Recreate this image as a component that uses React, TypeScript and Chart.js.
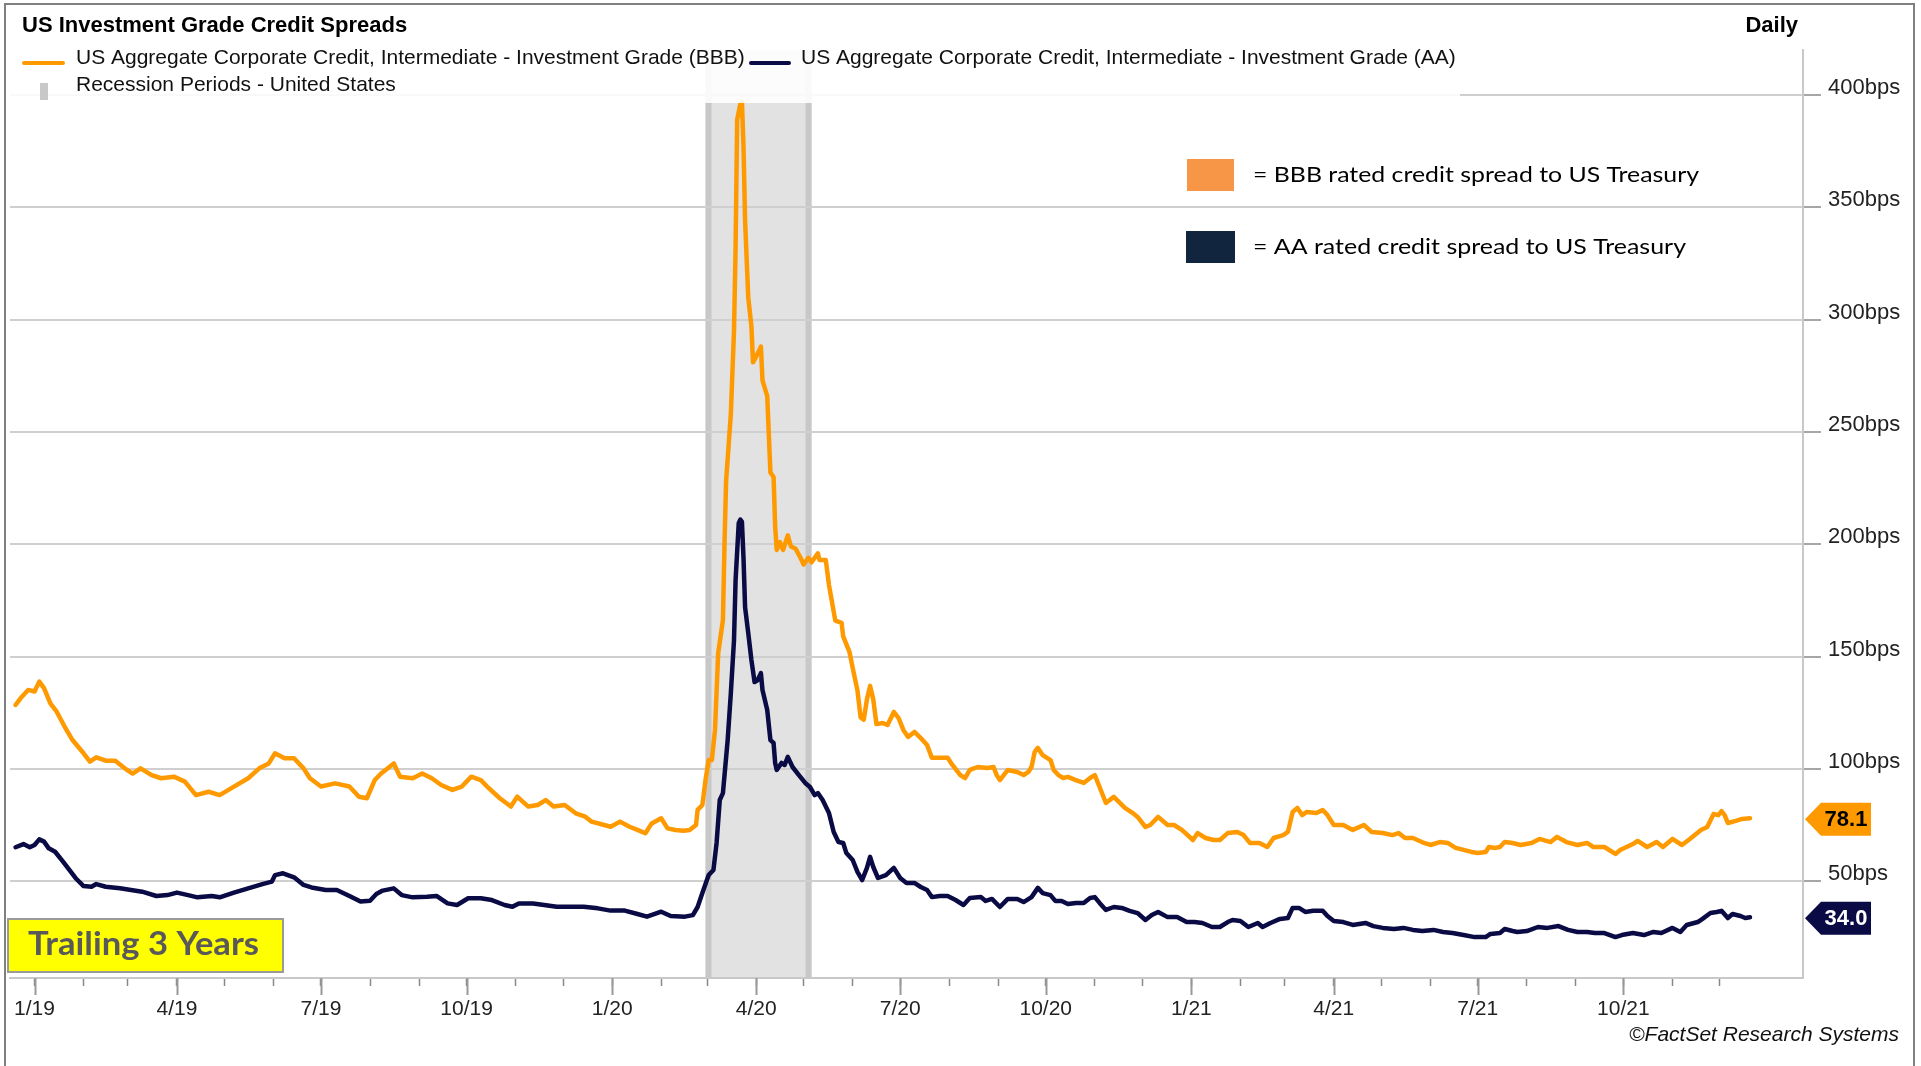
import React, { useEffect, useRef } from 'react';
import { Chart, registerables } from 'chart.js';

Chart.register(...registerables);

// x values: days since 2019-01-01
const bbbDays = [
  -12, -8, -4, 0, 3, 6, 10, 14, 19, 24, 31, 35, 39, 45, 51, 57, 62, 67, 74, 80,
  88, 95, 102, 110, 117, 126, 135, 142, 148, 152, 158, 164, 170, 174, 181, 190, 199, 205, 210, 215,
  219, 227, 231, 239, 245, 251, 257, 264, 270, 276, 282, 286, 294, 301, 305, 312, 318, 323, 328, 335,
  342, 348, 352, 360, 364, 370, 376, 381, 386, 390, 396, 400, 405, 410, 414, 418, 419, 422, 424, 426,
  428, 430, 432, 435, 436, 437, 440, 442, 443, 444, 446, 447, 448, 449, 451, 453, 454, 457, 459, 460,
  463, 465, 467, 468, 469, 471, 473, 476, 478, 481, 484, 486, 489, 491, 495, 496, 500, 502, 506, 510,
  511, 515, 517, 520, 522, 524, 526, 528, 530, 532, 536, 539, 543, 546, 549, 552, 556, 560, 564, 567,
  571, 577, 580, 585, 588, 591, 596, 602, 606, 608, 610, 615, 621, 625, 628, 630, 632, 634, 637, 642,
  644, 647, 650, 653, 658, 663, 667, 670, 673, 677, 682, 689, 694, 697, 702, 705, 710, 716, 720, 725,
  732, 735, 740, 745, 749, 754, 760, 764, 768, 774, 779, 783, 789, 792, 795, 798, 801, 804, 810, 814,
  817, 821, 827, 833, 840, 845, 852, 858, 862, 866, 871, 878, 882, 888, 893, 898, 903, 908, 912, 917,
  919, 923, 926, 929, 934, 939, 946, 951, 958, 962, 968, 975, 981, 985, 992, 999, 1002, 1010, 1013, 1019,
  1025, 1029, 1035, 1041, 1046, 1053, 1057, 1061, 1064, 1066, 1068, 1070, 1075, 1079, 1084,
];
const bbbValues = [
  128.5, 132.2, 135.2, 134.5, 138.9, 136, 129.2, 125.5, 118.9, 112.9, 107, 103.3, 105.2, 103.7, 103.7, 100.3, 98, 100.3, 97.3, 95.9,
  96.6, 94.4, 88.4, 89.9, 88.4, 92.2, 95.9, 100.3, 102.5, 107, 104.8, 104.8, 100.3, 95.9, 92.2, 93.6, 92.2, 87.7, 87, 95.1,
  98, 102.5, 96.6, 95.9, 98, 95.9, 92.9, 90.7, 92.2, 96.6, 95.1, 92.2, 87, 83.3, 87.7, 83.3, 84, 86.2, 83.3, 84,
  80.3, 78.8, 76.6, 75.1, 74.3, 76.6, 74.3, 72.9, 71.4, 75.8, 78.1, 73.6, 72.9, 72.5, 72.9, 75.1, 81.8, 84, 95.1, 104,
  104, 117.4, 151.6, 166.3, 200, 228, 258, 295, 332, 389, 396, 397, 377, 344, 310, 297, 281, 285, 288, 273,
  266, 232, 230, 208, 197.5, 201, 197.5, 204, 199, 198, 194, 191, 194, 192, 196, 193, 193, 182, 166, 165,
  159, 152, 145, 135, 123, 122, 131, 137, 131, 120, 120.5, 119.6, 125.4, 122.7, 117.4, 114.3, 116.5, 113.8, 110.7, 105,
  105, 105, 101.8, 97.3, 96, 99.6, 100.9, 100.5, 100.9, 97.3, 95.1, 99.6, 98.7, 97.3, 98.7, 100.9, 107.6, 109.4, 106.2, 104,
  99.6, 97.3, 96, 96.5, 95.1, 93.8, 96, 97.3, 92, 84.9, 87.6, 82.7, 80.4, 78.7, 74.2, 75.1, 78.7, 75.1, 75.1, 72.9,
  68.4, 71.5, 69.3, 68.4, 68.4, 71.5, 72, 70.6, 67.1, 67.1, 65.3, 69.3, 70.6, 72, 80.9, 82.7, 79.5, 80.9, 80.4, 81.8,
  79.5, 75.1, 75.1, 72.9, 75.1, 72, 71.5, 70.6, 71.5, 69.3, 69.3, 67.1, 66.2, 67.5, 67.1, 64.9, 64, 63.1, 62.6, 63.1,
  65.3, 64.9, 65.3, 67.5, 67.1, 66.2, 67.1, 68.9, 67.5, 69.8, 67.5, 66.2, 67.1, 65.3, 65.3, 62.2, 64, 66.6, 68, 65.3,
  67.5, 65.3, 68.9, 66.2, 68.9, 72.9, 74.2, 80, 79.5, 81.3, 79.5, 76, 76.9, 77.8, 78.1,
];

const aaDays = [
  -12, -7, -3, 0, 3, 6, 9, 13, 18, 22, 26, 31, 36, 39, 45, 54, 61, 68, 77, 84,
  90, 97, 103, 112, 117, 126, 135, 144, 150, 152, 157, 164, 170, 175, 184, 191, 199, 206, 212, 216,
  220, 227, 232, 239, 248, 254, 261, 267, 274, 282, 289, 297, 302, 306, 315, 322, 330, 338, 347, 356,
  364, 373, 381, 387, 396, 402, 411, 416, 419, 422, 426, 429, 431, 433, 435, 438, 440, 442, 443, 445,
  446, 447, 448, 449, 451, 453, 455, 457, 459, 460, 463, 465, 467, 468, 469, 472, 474, 476, 479, 483,
  487, 490, 493, 495, 498, 502, 505, 508, 511, 513, 517, 520, 523, 526, 528, 530, 533, 538, 543, 547,
  551, 556, 560, 564, 567, 572, 577, 582, 587, 591, 598, 601, 605, 610, 615, 621, 625, 630, 634, 637,
  642, 645, 649, 653, 658, 663, 667, 670, 673, 677, 682, 687, 692, 697, 702, 706, 710, 716, 722, 728,
  733, 738, 744, 749, 754, 757, 762, 767, 773, 776, 781, 787, 792, 795, 799, 803, 808, 814, 817, 821,
  827, 833, 841, 846, 852, 859, 865, 871, 877, 884, 890, 896, 903, 910, 917, 920, 926, 929, 934, 937,
  943, 950, 956, 963, 969, 975, 981, 986, 992, 999, 1003, 1010, 1017, 1023, 1028, 1035, 1040, 1044, 1051, 1054,
  1059, 1063, 1066, 1070, 1073, 1078, 1081, 1084,
];
const aaValues = [
  65.2, 66.6, 65.2, 66.2, 68.7, 67.7, 64.7, 63.2, 58.8, 55.1, 51.4, 47.9, 47.6, 48.8, 47.6, 46.9, 46.2, 45.4, 43.5, 43.9,
  45, 43.9, 42.9, 43.5, 42.9, 45, 46.9, 48.8, 49.9, 52.8, 53.6, 51.8, 48.4, 47.3, 46.2, 46.2, 43.5, 41, 41.4, 44.4,
  45.9, 46.9, 43.9, 42.9, 43.2, 43.5, 40.2, 39.5, 42.5, 42.5, 41.7, 39.5, 38.7, 40.2, 40.2, 39.5, 38.7, 38.7, 38.7, 38,
  37, 37, 35.5, 34.3, 36.5, 34.6, 34.3, 35, 38.6, 44.8, 52.8, 55.1, 67.1, 86.2, 89.3, 112.9, 133.8, 157.4, 184.1, 209.5,
  211, 210, 194, 172, 160.5, 148.5, 138.7, 139.6, 142.7, 135.2, 126.3, 112.9, 111.6, 102.7, 99.6, 102.7, 101.8, 105.4, 100.9, 97.3,
  93.8, 92, 88.4, 89.3, 86.2, 80.4, 72, 67.5, 67.1, 62.6, 59.5, 54.2, 50.6, 56, 60.9, 56.4, 51.5, 52.8, 56, 51.5,
  49.3, 49.3, 47.5, 46.2, 43, 43.5, 43.5, 41.7, 39.5, 42.6, 43, 41.3, 42.2, 38.6, 42.2, 42.2, 40.8, 43, 47.1, 44.8,
  43.9, 41.3, 41.3, 39.9, 40.4, 40.4, 42.6, 43, 40.4, 37.3, 38.6, 38.2, 36.9, 35.9, 32.8, 35, 36.4, 34.1, 34.1, 31.9,
  31.9, 31.5, 29.7, 29.7, 31.9, 32.8, 32.4, 29.7, 31.5, 29.7, 31.5, 33.3, 33.7, 38.2, 38.2, 36.4, 36.9, 36.9, 34.6, 32.4,
  31.9, 30.6, 31.5, 30.1, 29.3, 28.8, 29.3, 28.4, 27.9, 28.4, 27.5, 27, 26.1, 25.2, 25.2, 26.6, 27, 28.8, 27.9, 27.5,
  27.9, 29.7, 29.3, 30.1, 28.4, 27.5, 27.5, 27, 27, 25.2, 26.1, 27, 26.1, 27.5, 27, 29.3, 27.5, 30.6, 31.9, 33.3,
  35.9, 36.4, 36.9, 33.7, 35.5, 34.6, 33.7, 34.0,
];

const yTicks = [50, 100, 150, 200, 250, 300, 350, 400];
const recessionRange = ['2020-02-29', '2020-05-06'];
const titleText = 'US Investment Grade Credit Spreads';
const frequencyText = 'Daily';
const legendBBB = 'US Aggregate Corporate Credit, Intermediate - Investment Grade (BBB)';
const legendAA = 'US Aggregate Corporate Credit, Intermediate - Investment Grade (AA)';
const legendRecession = 'Recession Periods - United States';
const noteBBB = '= BBB rated credit spread to US Treasury';
const noteAA = '= AA rated credit spread to US Treasury';
const boxText = 'Trailing 3 Years';
const sourceText = '©FactSet Research Systems';

const BASE = Date.UTC(2019, 0, 1);
const toDay = (iso: string) => (Date.parse(iso + 'T00:00:00Z') - BASE) / 86400000;

const monthTicks: { value: number; label: string; major: boolean }[] = [];
for (let y = 2019; y <= 2021; y++) {
  for (let m = 0; m < 12; m++) {
    const d = (Date.UTC(y, m, 1) - BASE) / 86400000;
    const major = m % 3 === 0;
    monthTicks.push({ value: d, major, label: major ? `${m + 1}/${String(y).slice(2)}` : '' });
  }
}

const ORANGE = '#ff9900';
const NAVY = '#0a0a45';
const SANS = '"Liberation Sans", Arial, sans-serif';

function fitText(ctx: CanvasRenderingContext2D, text: string, x: number, y: number, width: number, font: string) {
  ctx.save();
  ctx.font = font;
  const w = ctx.measureText(text).width;
  ctx.translate(x, y);
  ctx.scale(width / w, 1);
  ctx.textAlign = 'left';
  ctx.fillText(text, 0, 0);
  ctx.restore();
}

const decor = {
  id: 'decor',
  beforeDraw(chart: any) {
    const { ctx, chartArea, scales } = chart;
    ctx.save();
    ctx.fillStyle = '#ffffff';
    ctx.fillRect(0, 0, chart.width, chart.height);
    const x0 = scales.x.getPixelForValue(toDay(recessionRange[0]));
    const x1 = scales.x.getPixelForValue(toDay(recessionRange[1]));
    const top = chartArea.top;
    const h = chartArea.bottom - chartArea.top;
    ctx.fillStyle = '#e2e2e2';
    ctx.fillRect(x0, top, x1 - x0, h);
    ctx.fillStyle = '#c8c8c8';
    ctx.fillRect(x0, top, 6, h);
    ctx.fillRect(x1 - 6, top, 6, h);
    ctx.restore();
  },
  afterDraw(chart: any) {
    const { ctx, chartArea, scales } = chart;
    ctx.save();
    // major ticks
    ctx.strokeStyle = '#999999';
    ctx.lineWidth = 2;
    monthTicks.forEach((t) => {
      if (!t.major) return;
      const x = Math.round(scales.x.getPixelForValue(t.value)) + 0.5;
      ctx.beginPath();
      ctx.moveTo(x, chartArea.bottom);
      ctx.lineTo(x, chartArea.bottom + 17);
      ctx.stroke();
    });

    // legend overlay
    ctx.fillStyle = 'rgba(255,255,255,0.88)';
    ctx.fillRect(10, 36, 1450, 67);

    ctx.fillStyle = '#000';
    ctx.textBaseline = 'middle';
    ctx.textAlign = 'left';
    ctx.font = `bold 22px ${SANS}`;
    ctx.fillText(titleText, 22, 26);
    ctx.textAlign = 'right';
    ctx.fillText(frequencyText, 1798, 26);

    ctx.textAlign = 'left';
    ctx.font = `21px ${SANS}`;
    ctx.fillStyle = '#111';
    ctx.fillText(legendBBB, 76, 58);
    ctx.fillText(legendAA, 801, 58);
    ctx.fillText(legendRecession, 76, 85);
    ctx.lineCap = 'round';
    ctx.lineWidth = 4;
    ctx.strokeStyle = ORANGE;
    ctx.beginPath(); ctx.moveTo(24, 63); ctx.lineTo(63, 63); ctx.stroke();
    ctx.strokeStyle = NAVY;
    ctx.beginPath(); ctx.moveTo(751, 63); ctx.lineTo(789, 63); ctx.stroke();
    ctx.fillStyle = '#c8c8c8';
    ctx.fillRect(40, 83, 8, 17);

    // inner notes
    ctx.fillStyle = '#f79646';
    ctx.fillRect(1187, 159, 47, 32);
    ctx.fillStyle = '#12253f';
    ctx.fillRect(1186, 231, 49, 32);
    ctx.fillStyle = '#000';
    ctx.textBaseline = 'middle';
    fitText(ctx, noteBBB, 1253, 175, 446, '22px Lato, "Open Sans", sans-serif');
    fitText(ctx, noteAA, 1253, 247, 433, '22px Lato, "Open Sans", sans-serif');

    // trailing box
    ctx.fillStyle = '#ffff00';
    ctx.fillRect(8, 919, 275, 53);
    ctx.strokeStyle = '#9a9a9a';
    ctx.lineWidth = 2;
    ctx.strokeRect(8, 919, 275, 53);
    ctx.fillStyle = '#595959';
    ctx.textBaseline = 'alphabetic';
    fitText(ctx, boxText, 28, 955, 231, 'bold 33px Lato, "Open Sans", sans-serif');

    // source
    ctx.textBaseline = 'middle';
    ctx.textAlign = 'right';
    ctx.fillStyle = '#111';
    ctx.font = `italic 21px ${SANS}`;
    ctx.fillText(sourceText, 1899, 1035);

    // end tags
    const tag = (v: number, bg: string, fg: string) => {
      const y = scales.y.getPixelForValue(v) + 1;
      ctx.fillStyle = bg;
      ctx.beginPath();
      ctx.moveTo(1805, y);
      ctx.lineTo(1821, y - 16.5);
      ctx.lineTo(1871, y - 16.5);
      ctx.lineTo(1871, y + 16.5);
      ctx.lineTo(1821, y + 16.5);
      ctx.closePath();
      ctx.fill();
      ctx.fillStyle = fg;
      ctx.font = `bold 22px ${SANS}`;
      ctx.textAlign = 'center';
      ctx.textBaseline = 'middle';
      ctx.fillText(v.toFixed(1), 1846, y + 1);
    };
    tag(bbbValues[bbbValues.length - 1], ORANGE, '#000');
    tag(aaValues[aaValues.length - 1], NAVY, '#fff');

    // frame
    ctx.strokeStyle = '#808080';
    ctx.lineWidth = 2;
    ctx.beginPath();
    ctx.moveTo(5, 1066);
    ctx.lineTo(5, 4);
    ctx.lineTo(1914, 4);
    ctx.lineTo(1914, 1066);
    ctx.stroke();
    ctx.restore();
  },
};

export default function App() {
  const ref = useRef<HTMLCanvasElement | null>(null);
  useEffect(() => {
    if (!ref.current) return;
    const chart = new Chart(ref.current, {
      type: 'line',
      data: {
        datasets: [
          {
            label: 'BBB',
            data: bbbDays.map((d, i) => ({ x: d, y: bbbValues[i] })),
            borderColor: ORANGE,
            borderWidth: 4.5,
            pointRadius: 0,
            tension: 0,
            borderJoinStyle: 'round',
            borderCapStyle: 'round',
          },
          {
            label: 'AA',
            data: aaDays.map((d, i) => ({ x: d, y: aaValues[i] })),
            borderColor: NAVY,
            borderWidth: 4.5,
            pointRadius: 0,
            tension: 0,
            borderJoinStyle: 'round',
            borderCapStyle: 'round',
          },
        ],
      },
      options: {
        responsive: false,
        animation: false,
        devicePixelRatio: 1,
        events: [],
        layout: { padding: { left: 10, top: 50, right: 0, bottom: 0 } },
        plugins: { legend: { display: false }, title: { display: false }, tooltip: { enabled: false } },
        scales: {
          x: {
            type: 'linear',
            min: -15.5,
            max: 1117.5,
            afterBuildTicks: (s: any) => {
              s.ticks = monthTicks.map((t) => ({ value: t.value }));
            },
            afterFit: (s: any) => {
              s.height = 88;
            },
            grid: { display: true, drawOnChartArea: false, drawTicks: true, tickLength: 8, tickColor: '#888', tickWidth: 1.5 },
            border: { display: true, color: '#c8c8c8', width: 2 },
            ticks: {
              autoSkip: false,
              maxRotation: 0,
              minRotation: 0,
              padding: 11,
              color: '#222',
              font: { family: SANS, size: 21 },
              callback: (_v: any, i: number) => monthTicks[i]?.label ?? '',
            },
          },
          y: {
            type: 'linear',
            position: 'right',
            min: 7,
            max: 420,
            afterBuildTicks: (s: any) => {
              s.ticks = yTicks.map((v) => ({ value: v }));
            },
            afterFit: (s: any) => {
              s.width = 118;
            },
            grid: { color: '#cfcfcf', lineWidth: 2, drawTicks: true, tickLength: 18, tickColor: '#888', tickWidth: 1.5 },
            border: { display: true, color: '#c8c8c8', width: 2 },
            ticks: {
              padding: 7,
              labelOffset: -7,
              color: '#222',
              font: { family: SANS, size: 22 },
              callback: (v: any) => `${v}bps`,
            },
          },
        },
      },
      plugins: [decor],
    } as any);
    return () => chart.destroy();
  }, []);
  return (
    <div style={{ position: 'fixed', left: 0, top: 0, width: 1921, height: 1066 }}>
      <canvas ref={ref} width={1921} height={1066} style={{ display: 'block' }} />
    </div>
  );
}
